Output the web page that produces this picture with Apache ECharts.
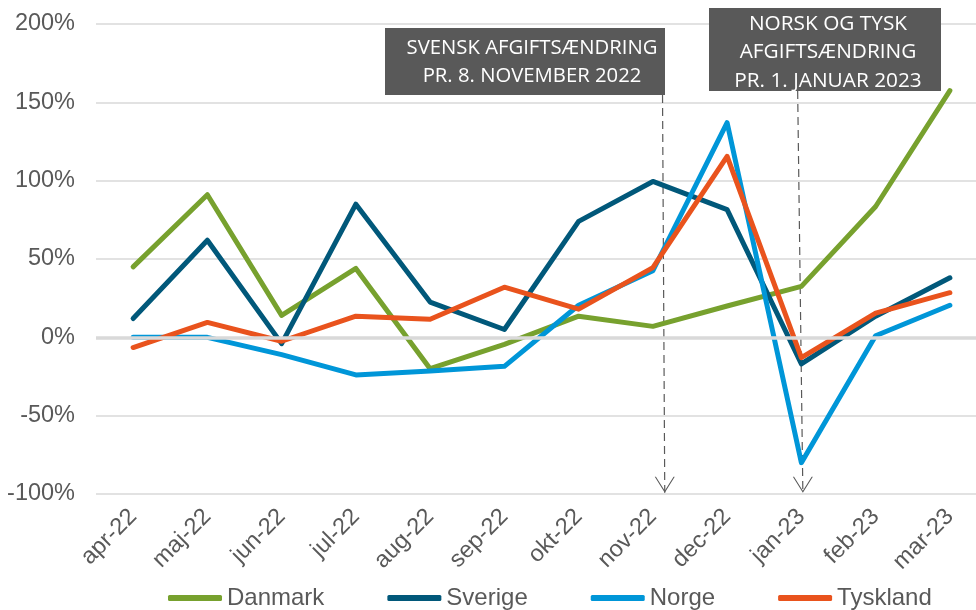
<!DOCTYPE html>
<html>
<head>
<meta charset="utf-8">
<script src="https://cdn.jsdelivr.net/npm/echarts@6/dist/echarts.min.js"></script>
<style>html,body{margin:0;padding:0;background:#fff;overflow:hidden;width:976px;height:610px;}#c{width:987px;height:610px;}</style>
</head>
<body>
<div id="c"></div>
<script>
const categories = ['apr-22','maj-22','jun-22','jul-22','aug-22','sep-22','okt-22','nov-22','dec-22','jan-23','feb-23','mar-23'];
const danmark  = [45, 91, 14, 44, -20, -4.5, 13.5, 7, 20, 32.5, 83.5, 157.5];
const sverige  = [12, 62, -4, 85, 22.5, 5, 74, 99.5, 81.5, -17, 13.5, 38];
const norge    = [0, 0, -11, -24, -21.5, -18.5, 20.5, 42.5, 137, -80, 1, 20.5];
const tyskland = [-6.5, 9.5, -2.5, 13.5, 11.5, 32, 18, 44.5, 115.5, -13, 15.5, 28.5];
const yTicks = { min: -100, max: 200, interval: 50 };
// annotation arrows: [x index, y value] at top and at tip
const arrow1 = [[7.13, 154.7], [7.16, -99.2]];
const arrow2 = [[8.95, 157.2], [9.02, -99.2]];
const note1 = 'SVENSK AFGIFTSÆNDRING\nPR. 8. NOVEMBER 2022';
const note2 = 'NORSK OG TYSK\nAFGIFTSÆNDRING\nPR. 1. JANUAR 2023';

const txt = '#595959';
const font = 'Liberation Sans, Arial, sans-serif';
const chevron = 'path://M0,0 L10,16 L20,0 L18.8,0 L10,14.1 L1.2,0 Z';

function mainLine(name, data, color) {
  return {
    name, type: 'line', data, symbol: 'none', z: 3,
    lineStyle: { color, width: 5, cap: 'round', join: 'round' },
    itemStyle: { color }
  };
}
function arrowSeries(pts) {
  return {
    type: 'line', xAxisIndex: 1, z: 2, silent: true,
    data: [
      { value: pts[0], symbol: 'none' },
      { value: pts[1], symbol: chevron, symbolSize: [20, 16], symbolOffset: [0, '-50%'] }
    ],
    showSymbol: true,
    lineStyle: { color: '#595959', width: 1.2, type: [8, 5] },
    itemStyle: { color: '#595959' }
  };
}

const chart = echarts.init(document.getElementById('c'), null, { renderer: 'canvas' });
chart.setOption({
  animation: false,
  backgroundColor: '#fff',
  grid: { left: 96, right: 0, top: 24, height: 470, containLabel: false },
  legend: {
    data: ['Danmark', 'Sverige', 'Norge', 'Tyskland'],
    left: 163, top: 581,
    icon: 'roundRect', itemWidth: 54, itemHeight: 6, itemGap: 63,
    textStyle: { color: txt, fontSize: 24, fontFamily: font }
  },
  xAxis: [{
    type: 'category', data: categories, boundaryGap: true,
    axisLine: { show: false }, axisTick: { show: false },
    axisLabel: { rotate: 45, color: txt, fontSize: 23.5, fontFamily: font, margin: 19, interval: 0 }
  }, {
    type: 'value', min: -0.5, max: 11.5, show: false
  }],
  yAxis: {
    type: 'value', min: yTicks.min, max: yTicks.max, interval: yTicks.interval,
    axisLine: { show: false }, axisTick: { show: false },
    axisLabel: { color: txt, fontSize: 23.5, fontFamily: font, margin: 21, formatter: v => v + '%' },
    splitLine: { lineStyle: { color: '#d9d9d9', width: 1.5 } }
  },
  series: [
    {
      type: 'line', data: [], z: 1, silent: true,
      markLine: {
        silent: true, symbol: 'none', label: { show: false },
        lineStyle: { color: '#d9d9d9', width: 3.5, type: 'solid' },
        data: [{ yAxis: 0 }]
      }
    },
    arrowSeries(arrow1),
    arrowSeries(arrow2),
    mainLine('Danmark', danmark, '#77a12e'),
    mainLine('Sverige', sverige, '#01587a'),
    mainLine('Norge', norge, '#0096d8'),
    mainLine('Tyskland', tyskland, '#e9531d')
  ],
  graphic: [
    { type: 'rect', z: 10, shape: { x: 385, y: 28, width: 280, height: 67 }, style: { fill: '#595959' } },
    { type: 'text', z: 11, x: 532, y: 62,
      style: { text: note1, fill: '#fff', font: '20.3px "Open Sans"', align: 'center', verticalAlign: 'middle', lineHeight: 28 } },
    { type: 'rect', z: 10, shape: { x: 709, y: 8, width: 232, height: 83 }, style: { fill: '#595959' } },
    { type: 'text', z: 11, x: 828, y: 52.5,
      style: { text: note2, fill: '#fff', font: '20.8px "Open Sans"', align: 'center', verticalAlign: 'middle', lineHeight: 28.5 } }
  ]
});
</script>
</body>
</html>
